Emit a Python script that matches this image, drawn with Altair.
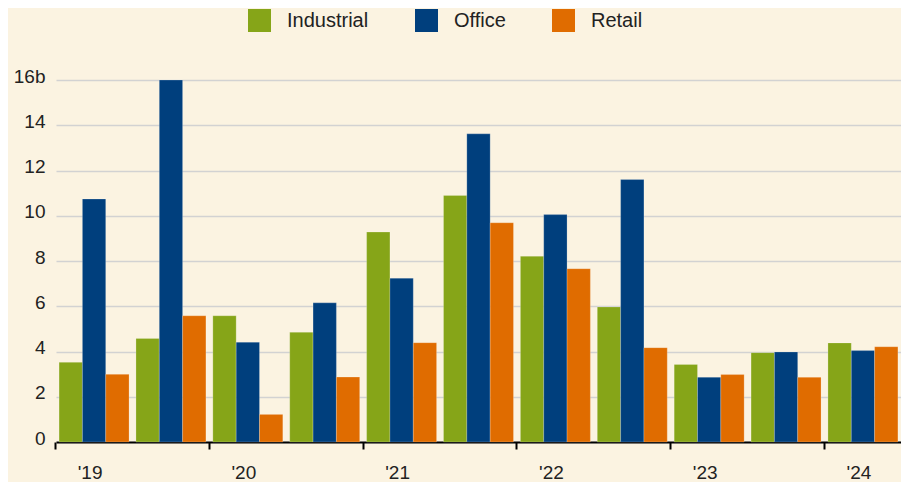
import altair as alt
import pandas as pd

periods = ["H1 2019", "H2 2019", "H1 2020", "H2 2020", "H1 2021", "H2 2021",
           "H1 2022", "H2 2022", "H1 2023", "H2 2023", "H1 2024"]
year_labels = ["'19", "", "'20", "", "'21", "", "'22", "", "'23", "", "'24"]
types = ["Industrial", "Office", "Retail"]
industrial = [3.52, 4.58, 5.58, 4.85, 9.28, 10.9, 8.21, 5.97, 3.43, 3.95, 4.38]
office = [10.74, 16.0, 4.41, 6.15, 7.24, 13.62, 10.05, 11.6, 2.86, 3.98, 4.04]
retail = [2.99, 5.58, 1.22, 2.87, 4.39, 9.69, 7.66, 4.17, 2.98, 2.86, 4.21]
colors = ["#86A518", "#003F7D", "#E06C00"]

rows = []
for i, p in enumerate(periods):
    for t, vals in zip(types, [industrial, office, retail]):
        rows.append({"period": p, "type": t, "value": vals[i]})
df = pd.DataFrame(rows)

label_map = {p: l for p, l in zip(periods, year_labels)}
tick_values = [p for p, l in zip(periods, year_labels) if l]
expr = " : ".join([f"datum.value == '{p}' ? \"{label_map[p]}\"" for p in tick_values]) + " : ''"

font = "Liberation Sans"

chart = alt.Chart(df).mark_bar(stroke="#ffffff", strokeWidth=0.6, strokeOpacity=0.35).encode(
    x=alt.X("period:N", sort=periods, title=None,
            scale=alt.Scale(paddingInner=0.09, paddingOuter=0.04),
            axis=alt.Axis(values=tick_values, labelExpr=expr, bandPosition=-0.05,
                          labelAngle=0, labelOffset=-4, labelFontSize=19, labelFont=font,
                          labelColor="#222222", labelPadding=14,
                          tickColor="#000000", tickWidth=2, tickSize=7,
                          domainColor="#000000", domainWidth=2, grid=False)),
    xOffset=alt.XOffset("type:N", sort=types),
    y=alt.Y("value:Q", title=None,
            scale=alt.Scale(domain=[0, 16], nice=False),
            axis=alt.Axis(values=[0, 2, 4, 6, 8, 10, 12, 14, 16],
                          labelExpr="datum.value == 16 ? '16b' : datum.label",
                          labelFontSize=19, labelFont=font, labelColor="#222222",
                          labelPadding=11, labelOffset=-4, ticks=False, domain=False,
                          grid=True, gridColor="#D2D2D2", gridWidth=1.5)),
    color=alt.Color("type:N", sort=types,
                    scale=alt.Scale(domain=types, range=colors),
                    legend=alt.Legend(title=None, orient="none", direction="horizontal",
                                      legendX=192, legendY=-71,
                                      symbolType="square", symbolSize=529,
                                      symbolStrokeWidth=0, symbolOpacity=1,
                                      labelFontSize=20, labelFont=font, labelColor="#222222",
                                      labelOffset=16, columnPadding=46, padding=0)),
).properties(
    width=845, height=362,
    background="#FBF3E1",
    autosize=alt.AutoSizeParams(type="none"),
    padding={"left": 48, "top": 72, "right": 0, "bottom": 40},
).configure_view(stroke=None)

chart.save("out.html", embed_options={"renderer": "svg", "actions": False})
